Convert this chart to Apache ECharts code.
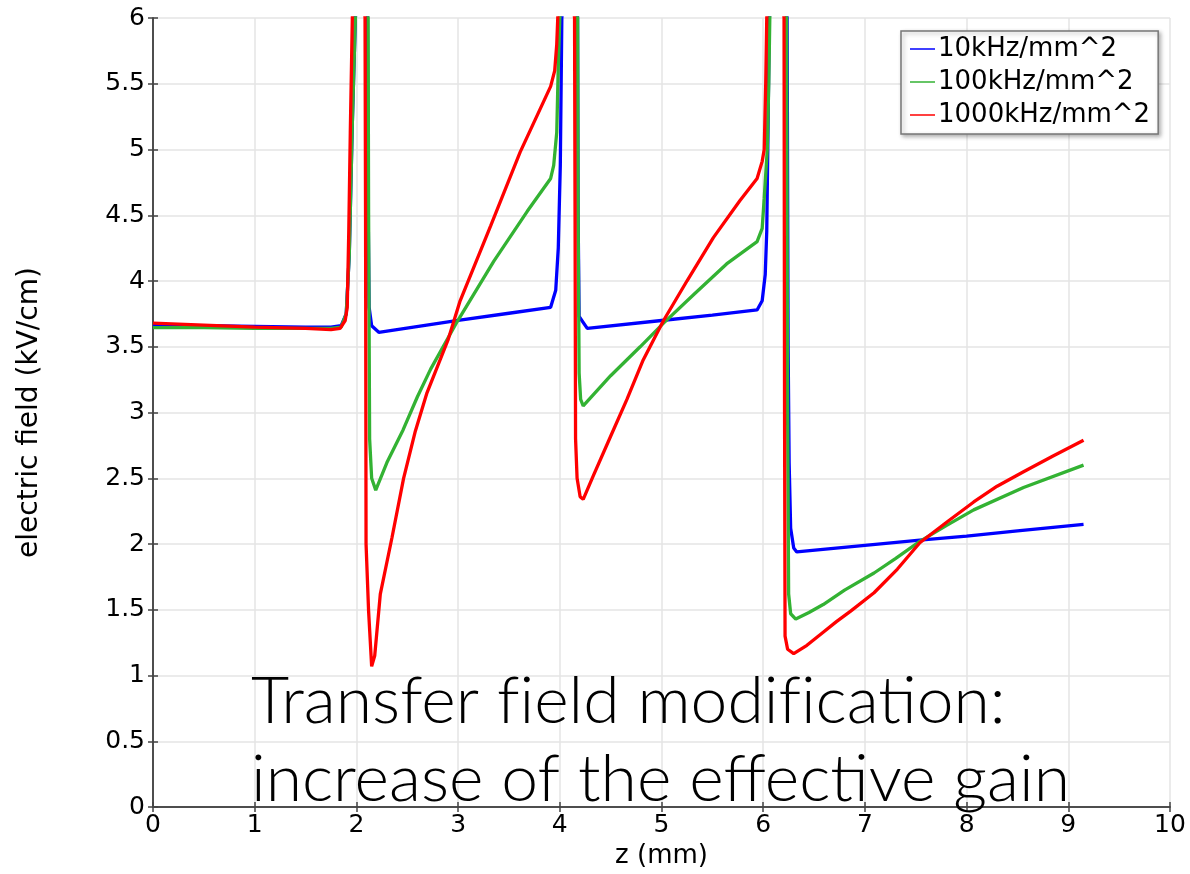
<!DOCTYPE html>
<html>
<head>
<meta charset="utf-8">
<title>Transfer field modification</title>
<script src="https://cdn.jsdelivr.net/npm/echarts@6/dist/echarts.min.js"></script>
<style>
  html, body { margin: 0; padding: 0; background: #ffffff; }
  #chart { width: 1190px; height: 874px; }
</style>
</head>
<body>
<div id="chart"></div>
<script>
// Electric field along z for three rate densities (kV/cm vs mm).
// Values above 6 kV/cm run off the top of the plot and are clipped.

const seriesNames = ['10kHz/mm^2', '100kHz/mm^2', '1000kHz/mm^2'];

const zBlue = [0, 0.5, 1, 1.5, 1.75, 1.85, 1.9, 1.93, 1.96, 1.99, 2.05, 2.11, 2.115, 2.125, 2.15, 2.22,
  3.0, 3.5, 3.91, 3.96, 3.985, 4.005, 4.02, 4.10, 4.175, 4.18, 4.19, 4.27,
  5.0, 5.5, 5.94, 5.99, 6.02, 6.035, 6.045, 6.06, 6.15, 6.235, 6.245, 6.255, 6.27, 6.30, 6.33,
  7.0, 7.54, 8.0, 8.5, 9.15];
const eBlue = [3.66, 3.66, 3.655, 3.65, 3.65, 3.66, 3.75, 4.2, 5.2, 6.0, 6.8, 6.0, 4.6, 3.8, 3.66, 3.61,
  3.70, 3.755, 3.80, 3.93, 4.25, 4.88, 6.0, 6.8, 6.0, 4.5, 3.73, 3.64,
  3.70, 3.74, 3.78, 3.85, 4.05, 4.38, 5.0, 6.0, 6.8, 6.0, 3.5, 2.62, 2.12, 1.97, 1.94,
  1.99, 2.03, 2.06, 2.10, 2.15];

const zGreen = [0, 0.5, 1, 1.5, 1.75, 1.85, 1.9, 1.93, 1.96, 1.99, 2.05, 2.115, 2.12, 2.13, 2.15, 2.19,
  2.30, 2.46, 2.60, 2.73, 2.99, 3.35, 3.68, 3.91, 3.94, 3.97, 3.985, 4.0, 4.09, 4.175, 4.18, 4.19, 4.205, 4.23,
  4.50, 4.79, 5.02, 5.32, 5.64, 5.94, 5.99, 6.01, 6.04, 6.055, 6.065, 6.15, 6.23, 6.24, 6.25, 6.27, 6.32,
  6.45, 6.59, 6.8, 7.09, 7.3, 7.54, 7.8, 8.07, 8.56, 9.15];
const eGreen = [3.645, 3.645, 3.64, 3.64, 3.64, 3.65, 3.75, 4.2, 5.2, 6.0, 6.8, 6.0, 4.5, 2.8, 2.5, 2.41,
  2.62, 2.87, 3.12, 3.33, 3.69, 4.15, 4.53, 4.78, 4.88, 5.13, 5.63, 6.0, 6.8, 6.0, 4.5, 3.3, 3.1, 3.05,
  3.28, 3.50, 3.68, 3.90, 4.13, 4.30, 4.40, 4.63, 5.0, 5.51, 6.0, 6.8, 6.0, 3.0, 1.62, 1.47, 1.43,
  1.48, 1.54, 1.65, 1.78, 1.89, 2.02, 2.14, 2.26, 2.43, 2.60];

const zRed = [0, 0.5, 1, 1.5, 1.75, 1.84, 1.89, 1.91, 1.925, 1.94, 1.96, 2.025, 2.085, 2.09, 2.095, 2.12, 2.15, 2.18,
  2.235, 2.35, 2.464, 2.58, 2.694, 2.90, 3.02, 3.32, 3.61, 3.91, 3.95, 3.97, 3.98, 4.06, 4.145, 4.15, 4.155, 4.17, 4.20, 4.23,
  4.33, 4.50, 4.66, 4.82, 5.02, 5.25, 5.51, 5.77, 5.94, 5.99, 6.01, 6.025, 6.035, 6.12, 6.205, 6.21, 6.215, 6.24, 6.30,
  6.43, 6.59, 6.72, 6.86, 7.09, 7.32, 7.54, 7.81, 8.07, 8.3, 8.56, 8.85, 9.15];
const eRed = [3.68, 3.665, 3.65, 3.64, 3.63, 3.64, 3.70, 3.80, 4.38, 5.13, 6.0, 6.8, 6.0, 4.5, 2.0, 1.49, 1.07, 1.15,
  1.62, 2.05, 2.50, 2.86, 3.15, 3.55, 3.85, 4.42, 4.98, 5.48, 5.60, 5.80, 6.0, 6.8, 6.0, 4.5, 2.8, 2.5, 2.36, 2.34,
  2.52, 2.82, 3.10, 3.40, 3.70, 4.00, 4.33, 4.61, 4.78, 4.91, 5.0, 5.51, 6.0, 6.8, 6.0, 3.0, 1.30, 1.20, 1.167,
  1.23, 1.33, 1.41, 1.49, 1.63, 1.81, 2.01, 2.17, 2.32, 2.44, 2.55, 2.67, 2.79];

const seriesColors = ['#0000ff', '#33b233', '#ff0000'];

// \u200C keeps "f" and "i" as separate glyphs
const captionLines = ['Transfer f\u200Cield modif\u200Cication:', 'increase of the effective gain'];

function pairs(zs, es) {
  return zs.map((z, i) => [z, es[i]]);
}

const FONT = 'DejaVu Sans';
const chart = echarts.init(document.getElementById('chart'), null, { renderer: 'canvas' });

const sharedAxisLine = { show: true, lineStyle: { color: '#444', width: 1.5 } };
const sharedTick = { show: true, inside: true, length: 5, lineStyle: { color: '#444', width: 1.5 } };

chart.setOption({
  animation: false,
  backgroundColor: '#ffffff',
  grid: { left: 153, top: 18, right: 20, bottom: 59, containLabel: false },
  legend: {
    data: seriesNames,
    orient: 'vertical',
    left: 901,
    top: 31,
    padding: [5, 8, 6, 9],
    itemGap: 7,
    itemWidth: 25,
    itemHeight: 1.5,
    icon: 'rect',
    backgroundColor: '#ffffff',
    borderColor: '#777',
    borderWidth: 1.5,
    shadowBlur: 4,
    shadowOffsetX: 2,
    shadowOffsetY: 2,
    shadowColor: 'rgba(0,0,0,0.3)',
    textStyle: { fontFamily: FONT, fontSize: 26, color: '#000', padding: [0, 0, 0, -2] }
  },
  xAxis: [
    {
      type: 'value', min: 0, max: 10, interval: 1,
      name: 'z (mm)', nameLocation: 'middle', nameGap: 32,
      nameTextStyle: { fontFamily: FONT, fontSize: 26, color: '#000' },
      axisLine: sharedAxisLine, axisTick: sharedTick,
      axisLabel: { fontFamily: FONT, fontSize: 25, color: '#000', margin: 6 },
      splitLine: { show: true, lineStyle: { color: '#e4e4e4', width: 1.5 } }
    },
    {
      type: 'value', min: 0, max: 10, interval: 1, position: 'top',
      axisLine: sharedAxisLine, axisTick: sharedTick,
      axisLabel: { show: false }, splitLine: { show: false }
    }
  ],
  yAxis: [
    {
      type: 'value', min: 0, max: 6, interval: 0.5,
      name: 'electric field (kV/cm)', nameLocation: 'middle', nameGap: 109,
      nameTextStyle: { fontFamily: FONT, fontSize: 28, color: '#000' },
      axisLine: sharedAxisLine, axisTick: sharedTick,
      axisLabel: { fontFamily: FONT, fontSize: 25, color: '#000', margin: 8 },
      splitLine: { show: true, lineStyle: { color: '#e4e4e4', width: 1.5 } }
    },
    {
      type: 'value', min: 0, max: 6, interval: 0.5, position: 'right',
      axisLine: sharedAxisLine, axisTick: sharedTick,
      axisLabel: { show: false }, splitLine: { show: false }
    }
  ],
  series: [
    { name: seriesNames[0], data: pairs(zBlue, eBlue), color: seriesColors[0] },
    { name: seriesNames[1], data: pairs(zGreen, eGreen), color: seriesColors[1] },
    { name: seriesNames[2], data: pairs(zRed, eRed), color: seriesColors[2] }
  ].map(s => Object.assign({
    type: 'line', showSymbol: false, symbol: 'none', clip: true,
    lineStyle: { width: 3.3, color: s.color }
  }, s)),
  graphic: [{
    type: 'text',
    left: 251,
    top: 663,
    z: 100,
    style: {
      text: captionLines.join('\n'),
      fontFamily: 'Lato',
      fontWeight: 300,
      fontSize: 66,
      lineHeight: 78,
      fill: '#000'
    }
  }]
});
</script>
</body>
</html>
